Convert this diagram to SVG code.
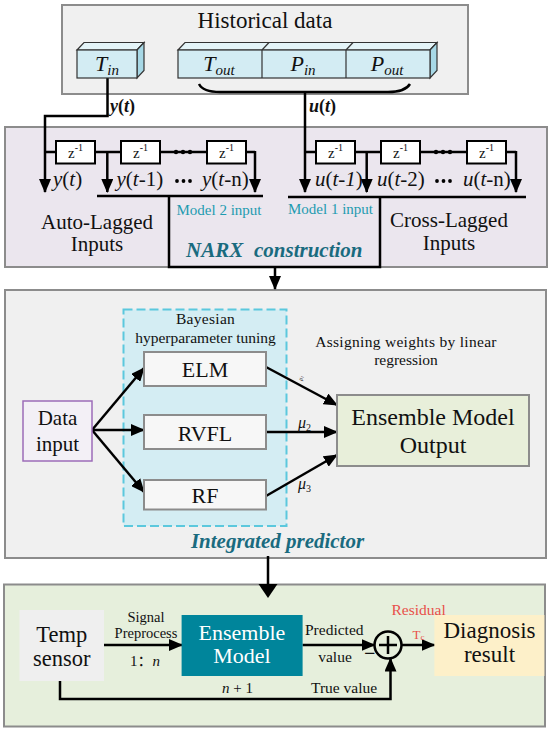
<svg xmlns="http://www.w3.org/2000/svg" width="550" height="733" viewBox="0 0 550 733">
<style>
text{font-family:"Liberation Serif","Times New Roman",serif;fill:#111}
.ln{stroke:#000;stroke-width:2.5;fill:none}
.ar{stroke:#000;stroke-width:2.5;fill:none;marker-end:url(#ah)}
.zb{fill:#fff;stroke:#000;stroke-width:2}
.zt{font-size:15px}
.lab{font-size:21px}
.teal{fill:#1e9bb0;font-size:15px}
.title{font-weight:bold;font-style:italic;fill:#1a6b7f;font-size:21px}
.cube{stroke:#333;stroke-width:1.2}
.gbox{stroke:#8c8c8c;stroke-width:2}
</style>
<defs>
<marker id="ah" markerUnits="userSpaceOnUse" markerWidth="14" markerHeight="12" viewBox="0 0 14 12" refX="13" refY="6" orient="auto">
<path d="M0,0 L14,6 L0,12 z" fill="#000"/>
</marker>
</defs>

<!-- Section containers -->
<g id="historical">
<rect class="gbox" x="62" y="5" width="406" height="89" fill="#f0f0f0"/>
<text x="265" y="28" font-size="23" text-anchor="middle">Historical data</text>
</g>
<g id="narx">
<rect class="gbox" x="5" y="127" width="542" height="140" fill="#ebe6ee"/>
<text class="lab" x="97" y="229" text-anchor="middle">Auto-Lagged</text>
<text class="lab" x="97" y="251" text-anchor="middle">Inputs</text>
<text class="lab" x="449" y="227" text-anchor="middle">Cross-Lagged</text>
<text class="lab" x="449" y="250" text-anchor="middle">Inputs</text>
<text class="teal" x="176.5" y="215">Model 2 input</text>
<text class="teal" x="288" y="214">Model 1 input</text>
<text class="title" x="186" y="257">NARX</text>
<text class="title" x="254" y="257">construction</text>
</g>
<g id="predictor">
<rect class="gbox" x="5" y="290" width="541" height="268" fill="#f0f0f0"/>
<text class="title" x="277.5" y="548" text-anchor="middle">Integrated predictor</text>
<text x="406" y="346.5" font-size="15.5" text-anchor="middle" letter-spacing="0.3">Assigning weights by linear</text>
<text x="406" y="365" font-size="15.5" text-anchor="middle">regression</text>
</g>
<g id="bayes">
<rect x="123.5" y="309.5" width="163" height="216.5" fill="#d4edf3" stroke="#5bc8dd" stroke-width="2" stroke-dasharray="9,4"/>
<text x="205.5" y="324.3" font-size="15.5" text-anchor="middle" letter-spacing="0.3">Bayesian</text>
<text x="205.5" y="343.3" font-size="15.5" text-anchor="middle">hyperparameter tuning</text>
</g>
<g id="diagnosis">
<rect class="gbox" x="4" y="584.5" width="541" height="142" fill="#e6efdc"/>
</g>

<g id="connectors">
<path class="ln" d="M199,84 Q203,92 220,92 H388 Q405,92 410,84"/>
<path class="ar" d="M107.5,78 V116 H45 V192"/>
<path class="ar" d="M305,92 V192"/>
<text x="110" y="112" font-size="18" font-weight="bold" font-style="italic">y<tspan font-style="normal">(</tspan>t<tspan font-style="normal">)</tspan></text>
<text x="309" y="112" font-size="18" font-weight="bold" font-style="italic">u<tspan font-style="normal">(</tspan>t<tspan font-style="normal">)</tspan></text>

<path class="ln" d="M45,152 H56 M95,152 H121 M160,152 H207 M246,152 H255"/>
<path class="ar" d="M107.3,152 V192"/>
<path class="ar" d="M255,151 V192"/>
<circle cx="176" cy="152" r="2.2"/><circle cx="183" cy="152" r="2.2"/><circle cx="190" cy="152" r="2.2"/>
<path class="ln" d="M305,152 H316 M355,152 H381 M420,152 H467 M507,152 H516"/>
<path class="ar" d="M366.7,152 V192"/>
<path class="ar" d="M516,151 V192"/>
<circle cx="436" cy="152" r="2.2"/><circle cx="443" cy="152" r="2.2"/><circle cx="450" cy="152" r="2.2"/>
<path class="ln" d="M97,196 H263" stroke-width="3"/>
<path class="ln" d="M288,197 H526" stroke-width="3"/>
<path class="ln" d="M169,196 V267 H380 V197"/>
<path class="ar" d="M275,267 V289"/>

<path class="ar" d="M92,430 L144,368"/>
<path class="ar" d="M92,430 L144,430"/>
<path class="ar" d="M92,430 L144,492"/>
<path class="ar" d="M266,367 L337,405"/>
<path class="ar" d="M266,432 L337,432"/>
<path class="ar" d="M266,496 L337,455"/>

<path class="ln" d="M268,556 V586" stroke-width="4"/>
<polygon points="258.5,584 277.5,584 268,598" fill="#000"/>

<path class="ar" d="M104,645 H182"/>
<path class="ar" d="M302.5,645 H374.5"/>
<path class="ar" d="M401.5,645 H434.5"/>
<path class="ar" d="M60,681 V699 H390.5 V658.5"/>
</g>

<g id="tin">
<polygon class="cube" points="77,50 84,42.5 144,42.5 137,50" fill="#e4f4f8"/>
<polygon class="cube" points="137,50 144,42.5 144,70.5 137,78" fill="#a7d8e6"/>
<rect class="cube" x="77" y="50" width="60" height="28" fill="#d3ecf3"/>
<text x="107" y="71" font-size="22" text-anchor="middle" font-style="italic">T<tspan font-size="15" dy="4">in</tspan></text>
</g>
<g id="uvars">
<polygon class="cube" points="178,50 185,42.5 437,42.5 430,50" fill="#e4f4f8"/>
<line class="cube" x1="262" y1="50" x2="269" y2="42.5"/>
<line class="cube" x1="346" y1="50" x2="353" y2="42.5"/>
<polygon class="cube" points="430,50 437,42.5 437,70.5 430,78" fill="#a7d8e6"/>
<rect class="cube" x="178" y="50" width="252" height="28" fill="#d3ecf3"/>
<line class="cube" x1="262" y1="50" x2="262" y2="78"/>
<line class="cube" x1="346" y1="50" x2="346" y2="78"/>
<text x="219" y="71" font-size="22" text-anchor="middle" font-style="italic">T<tspan font-size="15" dy="4">out</tspan></text>
<text x="303" y="71" font-size="22" text-anchor="middle" font-style="italic">P<tspan font-size="15" dy="4">in</tspan></text>
<text x="387" y="71" font-size="22" text-anchor="middle" font-style="italic">P<tspan font-size="15" dy="4">out</tspan></text>
</g>

<g id="z1"><rect class="zb" x="56" y="141" width="39" height="22.5"/><text class="zt" x="68" y="158">z<tspan font-size="10" dy="-7">-1</tspan></text></g>
<g id="z2"><rect class="zb" x="121" y="141" width="39" height="22.5"/><text class="zt" x="133" y="158">z<tspan font-size="10" dy="-7">-1</tspan></text></g>
<g id="z3"><rect class="zb" x="207" y="141" width="39" height="22.5"/><text class="zt" x="219" y="158">z<tspan font-size="10" dy="-7">-1</tspan></text></g>
<g id="z4"><rect class="zb" x="316" y="141" width="39" height="22.5"/><text class="zt" x="328" y="158">z<tspan font-size="10" dy="-7">-1</tspan></text></g>
<g id="z5"><rect class="zb" x="381" y="141" width="39" height="22.5"/><text class="zt" x="393" y="158">z<tspan font-size="10" dy="-7">-1</tspan></text></g>
<g id="z6"><rect class="zb" x="467" y="141" width="39" height="22.5"/><text class="zt" x="479" y="158">z<tspan font-size="10" dy="-7">-1</tspan></text></g>

<g id="laglabels">
<text class="lab" x="53" y="186"><tspan font-style="italic">y</tspan>(<tspan font-style="italic">t</tspan>)</text>
<text class="lab" x="116.5" y="186"><tspan font-style="italic">y</tspan>(<tspan font-style="italic">t</tspan>-1)</text>
<circle cx="177" cy="181" r="1.9"/><circle cx="183.5" cy="181" r="1.9"/><circle cx="190" cy="181" r="1.9"/>
<text class="lab" x="202" y="186"><tspan font-style="italic">y</tspan>(<tspan font-style="italic">t</tspan>-n)</text>
<text class="lab" x="315" y="186"><tspan font-style="italic">u</tspan>(<tspan font-style="italic">t-1</tspan>)</text>
<text class="lab" x="377" y="186"><tspan font-style="italic">u</tspan>(<tspan font-style="italic">t</tspan>-2)</text>
<circle cx="437" cy="181" r="1.9"/><circle cx="443.5" cy="181" r="1.9"/><circle cx="450" cy="181" r="1.9"/>
<text class="lab" x="463" y="186"><tspan font-style="italic">u</tspan>(<tspan font-style="italic">t</tspan>-n)</text>
</g>

<g id="elm"><rect class="gbox" x="144" y="352" width="122" height="34" fill="#f7f7f7"/><text x="205" y="377" font-size="22" text-anchor="middle">ELM</text></g>
<g id="rvfl"><rect class="gbox" x="144" y="415" width="122" height="34" fill="#f7f7f7"/><text x="205" y="441" font-size="22" text-anchor="middle">RVFL</text></g>
<g id="rf"><rect class="gbox" x="144" y="480" width="122" height="29.5" fill="#f7f7f7"/><text x="205" y="503" font-size="22" text-anchor="middle">RF</text></g>
<g id="datainput"><rect x="23" y="401" width="69" height="60" fill="#f3f0f6" stroke="#9c6cb8" stroke-width="1.5"/>
<text x="57.5" y="425" font-size="21" text-anchor="middle">Data</text>
<text x="57.5" y="450.5" font-size="21" text-anchor="middle">input</text></g>
<g id="ensembleout"><rect class="gbox" x="337" y="395" width="192" height="71" fill="#e8efda"/>
<text x="433" y="425" font-size="24" text-anchor="middle">Ensemble Model</text>
<text x="433" y="453" font-size="24" text-anchor="middle">Output</text></g>
<g id="weights">
<text x="298" y="428" font-size="16" font-style="italic">μ<tspan font-size="10" dy="3" font-style="normal">2</tspan></text>
<text x="298" y="488.5" font-size="16" font-style="italic">μ<tspan font-size="10" dy="3" font-style="normal">3</tspan></text>
<text x="302" y="381" font-size="6" font-style="italic" transform="rotate(-80 302 381)">μ<tspan font-size="4" dy="1">1</tspan></text>
</g>

<g id="temp"><rect x="19.5" y="610" width="84.5" height="71" fill="#efefef"/>
<text x="61.7" y="641.7" font-size="22.5" text-anchor="middle">Temp</text>
<text x="61.7" y="666" font-size="22.5" text-anchor="middle">sensor</text></g>
<g id="ensemble"><rect x="181.6" y="615" width="121" height="61" fill="#00859b"/>
<text x="242" y="640" font-size="22" text-anchor="middle" style="fill:#fff">Ensemble</text>
<text x="242" y="663" font-size="22" text-anchor="middle" style="fill:#fff">Model</text></g>
<g id="sum"><circle cx="388" cy="645" r="13.5" fill="none" stroke="#000" stroke-width="2.5"/>
<path d="M388,636 V654 M379,645 H397" stroke="#000" stroke-width="2.5"/></g>
<g id="result"><rect x="434.4" y="615" width="110" height="61" fill="#fdf0c9"/>
<text x="489.5" y="638.3" font-size="23" text-anchor="middle">Diagnosis</text>
<text x="489.5" y="662.3" font-size="23" text-anchor="middle">result</text></g>
<g id="bottomlabels">
<text x="146" y="622" font-size="14.5" text-anchor="middle">Signal</text>
<text x="146" y="637.5" font-size="14.5" text-anchor="middle">Preprocess</text>
<text x="130" y="666" font-size="15" style="font-family:'Liberation Serif','Noto Sans CJK SC',serif">1：<tspan font-style="italic">n</tspan></text>
<text x="305" y="635" font-size="15.5">Predicted</text>
<text x="335" y="661.7" font-size="15.5" text-anchor="middle">value</text>
<text x="364" y="660" font-size="20" font-weight="bold">−</text>
<text x="391.5" y="615" font-size="15.5" style="fill:#e8504a">Residual</text>
<text x="412.5" y="638.5" font-size="13" style="fill:#e8504a">T<tspan font-size="9" dy="1.5">c</tspan></text>
<text x="222" y="692.7" font-size="15"><tspan font-style="italic">n</tspan> + 1</text>
<text x="311" y="692.7" font-size="15.5">True value</text>
</g>
</svg>
